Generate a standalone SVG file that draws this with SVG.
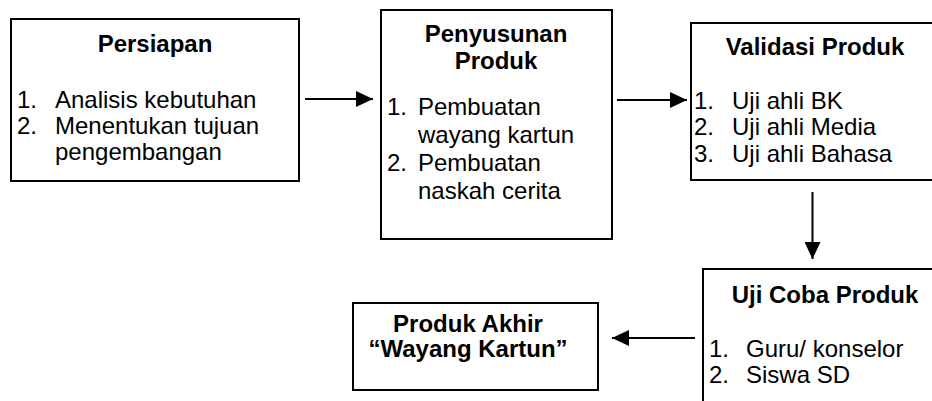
<svg xmlns="http://www.w3.org/2000/svg" width="932" height="401" viewBox="0 0 932 401">
<style>
.box{fill:#fff;stroke:#000;stroke-width:2}
text{font-family:"Liberation Sans",Arial,sans-serif;font-size:24px;fill:#000}
.t{font-weight:bold;text-anchor:middle}
.c{stroke:#000;stroke-width:2;fill:none;marker-end:url(#ah)}
</style>
<defs>
<marker id="ah" markerUnits="userSpaceOnUse" markerWidth="17" markerHeight="16" refX="17" refY="8" orient="auto">
<path d="M0,0 L17,8 L0,16 z" fill="#000"/>
</marker>
</defs>
<rect width="932" height="401" fill="#fff"/>
<g id="persiapan">
<rect class="box" x="11" y="19" width="288" height="162"/>
<text class="t" x="155" y="52">Persiapan</text>
<text x="17" y="108">1.</text><text x="55" y="108">Analisis kebutuhan</text>
<text x="17" y="134">2.</text><text x="55" y="134">Menentukan tujuan</text>
<text x="55" y="160">pengembangan</text>
</g>
<g id="penyusunan">
<rect class="box" x="381" y="10" width="231" height="229"/>
<text class="t" x="496" y="42">Penyusunan</text>
<text class="t" x="496" y="69">Produk</text>
<text x="387" y="115">1.</text><text x="418" y="115">Pembuatan</text>
<text x="418" y="143">wayang kartun</text>
<text x="387" y="171">2.</text><text x="418" y="171">Pembuatan</text>
<text x="418" y="199">naskah cerita</text>
</g>
<g id="validasi">
<rect class="box" x="691" y="23" width="260" height="157"/>
<text class="t" x="815" y="55">Validasi Produk</text>
<text x="694" y="108.5">1.</text><text x="732" y="108.5">Uji ahli BK</text>
<text x="694" y="135">2.</text><text x="732" y="135">Uji ahli Media</text>
<text x="694" y="161.5">3.</text><text x="732" y="161.5">Uji ahli Bahasa</text>
</g>
<g id="ujicoba">
<rect class="box" x="703" y="269" width="250" height="150"/>
<text class="t" x="825" y="303">Uji Coba Produk</text>
<text x="709" y="357">1.</text><text x="746" y="357">Guru/ konselor</text>
<text x="709" y="383">2.</text><text x="746" y="383">Siswa SD</text>
</g>
<g id="produkakhir">
<rect class="box" x="353" y="303" width="245" height="87"/>
<text class="t" x="468" y="332">Produk Akhir</text>
<text class="t" x="468" y="357">“Wayang Kartun”</text>
</g>
<g id="connectors">
<line class="c" x1="305" y1="99" x2="373" y2="99"/>
<line class="c" x1="617" y1="100" x2="687" y2="100"/>
<line class="c" x1="812.5" y1="192" x2="812.5" y2="259"/>
<line class="c" x1="695" y1="338" x2="612" y2="338"/>
</g>
</svg>
